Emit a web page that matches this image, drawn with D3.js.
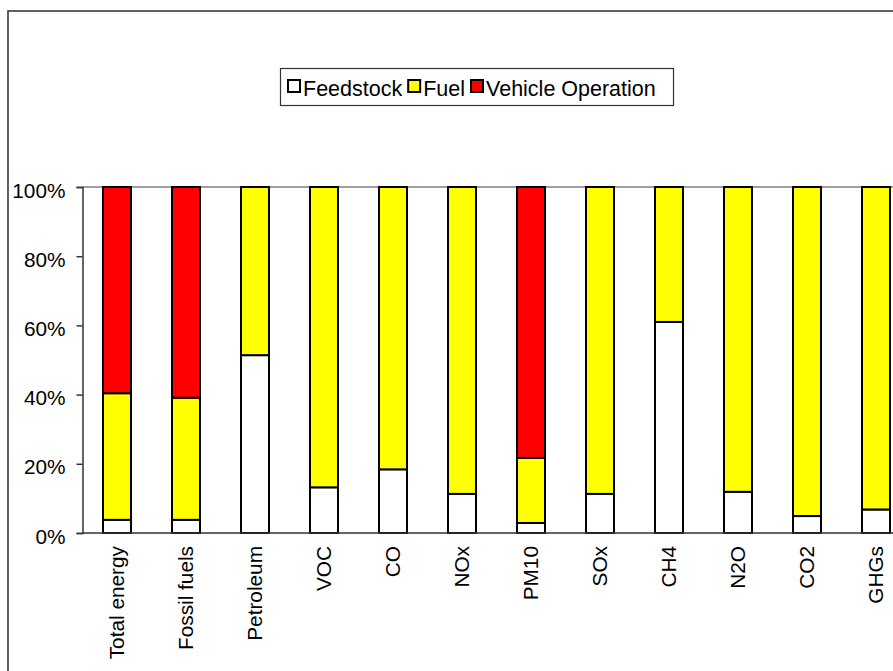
<!DOCTYPE html>
<html>
<head>
<meta charset="utf-8">
<script src="https://cdn.jsdelivr.net/npm/d3@7"></script>
<style>
  html, body { margin: 0; padding: 0; background: #fff; }
  svg { display: block; font-family: "Liberation Sans", Arial, sans-serif; }
</style>
</head>
<body>
<svg id="chart" width="893" height="671"></svg>
<script>
// Share of each life-cycle stage, in percent
const categories = ["Total energy", "Fossil fuels", "Petroleum", "VOC", "CO", "NOx",
                    "PM10", "SOx", "CH4", "N2O", "CO2", "GHGs"];
const feedstock        = [3.8, 3.8, 51.4, 13.2, 18.4, 11.3, 2.9, 11.3, 61.0, 11.9, 4.9, 6.8];
const fuel             = [36.6, 35.3, 48.6, 86.8, 81.6, 88.7, 18.8, 88.7, 39.0, 88.1, 95.1, 93.2];
const vehicleOperation = [59.6, 60.9, 0, 0, 0, 0, 78.3, 0, 0, 0, 0, 0];
const seriesNames  = ["Feedstock", "Fuel", "Vehicle Operation"];
const seriesColors = ["#FFFFFF", "#FFFF00", "#FF0000"];
const yTicks = [0, 20, 40, 60, 80, 100];

const rows = categories.map((c, i) => ({
  category: c,
  "Feedstock": feedstock[i],
  "Fuel": fuel[i],
  "Vehicle Operation": vehicleOperation[i]
}));

const svg = d3.select("#chart");
const axisFont = 20.8;
const legendFont = 21.5;

// Outer chart frame (runs past the right and bottom edges)
svg.append("rect")
  .attr("x", 8).attr("y", 11)
  .attr("width", 900).attr("height", 700)
  .attr("fill", "none").attr("stroke", "#3a3a3a").attr("stroke-width", 1.6);

const plotLeft = 82.5, plotTop = 187, plotBottom = 533;
const step = 69;

const x = d3.scaleBand()
  .domain(categories)
  .range([plotLeft, plotLeft + step * categories.length])
  .paddingInner(41 / 69)
  .paddingOuter(41 / 69 / 2);

const y = d3.scaleLinear().domain([0, 100]).range([plotBottom, plotTop]);

// 100% gridline
svg.append("line")
  .attr("x1", plotLeft).attr("x2", 893)
  .attr("y1", y(100)).attr("y2", y(100))
  .attr("stroke", "#808080").attr("stroke-width", 1.5);

// Stacked bars
const stacked = d3.stack().keys(seriesNames)(rows);
const color = d3.scaleOrdinal().domain(seriesNames).range(seriesColors);

svg.append("g").selectAll("g")
  .data(stacked)
  .join("g")
  .attr("fill", d => color(d.key))
  .selectAll("rect")
  .data(d => d.filter(s => s[1] - s[0] > 0))
  .join("rect")
  .attr("x", d => x(d.data.category))
  .attr("width", x.bandwidth())
  .attr("y", d => y(d[1]))
  .attr("height", d => y(d[0]) - y(d[1]))
  .attr("stroke", "#000")
  .attr("stroke-width", 2);

// Y axis
const yAxis = svg.append("g")
  .attr("transform", `translate(${plotLeft},0)`)
  .call(d3.axisLeft(y).tickValues(yTicks).tickFormat(d => d + "%").tickSize(6).tickPadding(11));
yAxis.select(".domain").attr("stroke", "#333").attr("stroke-width", 1.5);
yAxis.selectAll(".tick line").attr("stroke", "#333").attr("stroke-width", 1.5);
yAxis.selectAll(".tick text")
  .attr("font-size", axisFont)
  .attr("font-family", "Liberation Sans, Arial, sans-serif")
  .attr("fill", "#000")
  .attr("dy", 10);

// X axis baseline and rotated category labels
const xAxis = svg.append("g")
  .attr("transform", `translate(0,${plotBottom})`)
  .call(d3.axisBottom(x).tickSize(0).tickPadding(0));
xAxis.select(".domain").remove();
svg.append("line")
  .attr("x1", plotLeft).attr("x2", 893)
  .attr("y1", plotBottom).attr("y2", plotBottom)
  .attr("stroke", "#333").attr("stroke-width", 1.5);
xAxis.selectAll(".tick text")
  .attr("font-size", axisFont)
  .attr("font-family", "Liberation Sans, Arial, sans-serif")
  .attr("fill", "#000")
  .attr("text-anchor", "end")
  .attr("transform", "rotate(-90)")
  .attr("x", -13)
  .attr("y", 0)
  .attr("dy", "0.32em");

// Legend
const legend = svg.append("g");
legend.append("rect")
  .attr("x", 280.5).attr("y", 68.5)
  .attr("width", 393).attr("height", 37)
  .attr("fill", "#fff").attr("stroke", "#333").attr("stroke-width", 1.2);

let cursor = 288;
seriesNames.forEach((name, i) => {
  legend.append("rect")
    .attr("x", cursor).attr("y", 80)
    .attr("width", 12).attr("height", 12)
    .attr("fill", color(name)).attr("stroke", "#000").attr("stroke-width", 2);
  const t = legend.append("text")
    .attr("x", cursor + 15).attr("y", 96)
    .attr("font-size", legendFont)
    .attr("fill", "#000")
    .text(name);
  cursor += 15 + t.node().getComputedTextLength() + 6;
});
</script>
</body>
</html>
